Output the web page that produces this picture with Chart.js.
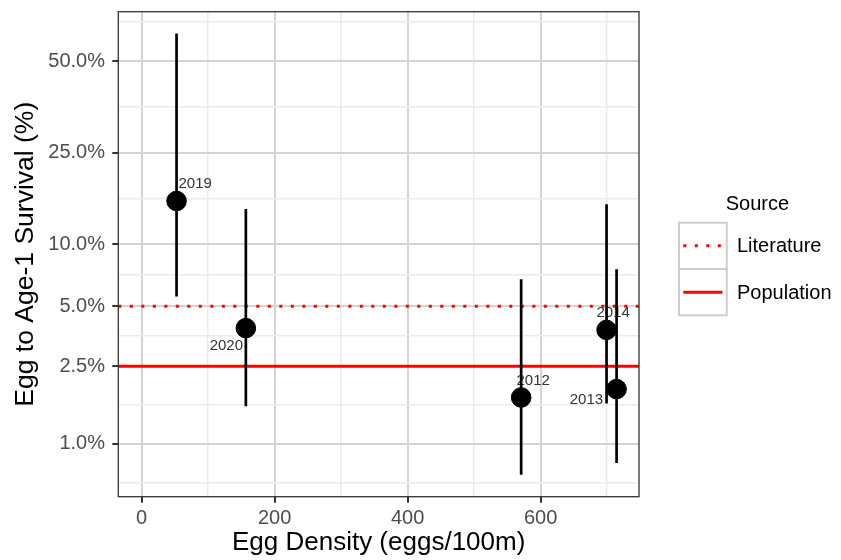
<!DOCTYPE html>
<html>
<head>
<meta charset="utf-8">
<script src="https://cdn.jsdelivr.net/npm/chart.js@4.4.1/dist/chart.umd.min.js"></script>
<style>
    body { margin: 0; background: #fff; }
    #grafico { display: block; }
</style>
</head>
<body>
<canvas id="grafico" width="841" height="560"></canvas>
<script>
// dados
const anos = ['2019', '2020', '2012', '2014', '2013'];
const densidadeOvos = [52.6, 156.8, 570.8, 699.2, 714.3];
const sobrevivencia = [0.157, 0.0389, 0.0173, 0.0381, 0.0191];
const sobrevInferior = [0.0559, 0.0156, 0.00691, 0.0161, 0.00795];
const sobrevSuperior = [0.582, 0.1448, 0.0679, 0.152, 0.0759];

const fontes = ['Literature', 'Population'];
const valoresFonte = [0.05, 0.025];

const quebrasY = [0.01, 0.025, 0.05, 0.1, 0.25, 0.5];
const quebrasX = [0, 200, 400, 600];
const quebrasMenoresX = [100, 300, 500, 700];
const limitesX = [-35, 748];
const limitesY = [0.00532, 0.6438];

// deslocamento dos rótulos em pixels (estilo, não dado)
const deslocRotulos = [[18.6, -16.8], [-19.5, 17.9], [12, -16.9], [6.6, -17.2], [-30.2, 11.2]];

const fonte = "'Liberation Sans', Arial, Helvetica, sans-serif";
const corGradeMaior = '#d4d4d4';
const corGradeMenor = '#ebebeb';

const logit = p => Math.log(p / (1 - p));
const invLogit = z => 1 / (1 + Math.exp(-z));

// escala logit (como scales::logit_trans do ggplot)
class EscalaLogit extends Chart.Scale {
    determineDataLimits() {
        const { min, max } = this.getMinMax(true);
        this.min = this.options.min ?? min;
        this.max = this.options.max ?? max;
    }
    buildTicks() {
        const z = quebrasY.map(logit);
        const passo = z[1] - z[0];
        const ext = [z[0] - passo, ...z, z[z.length - 1] + passo];
        const ticks = [];
        for (let i = 0; i < ext.length - 1; i++) {
            ticks.push({ value: invLogit((ext[i] + ext[i + 1]) / 2), menor: true });
        }
        quebrasY.forEach(v => ticks.push({ value: v, menor: false }));
        return ticks
            .filter(t => t.value >= this.min && t.value <= this.max)
            .sort((a, b) => a.value - b.value);
    }
    configure() {
        super.configure();
        this._inicio = logit(this.min);
        this._faixa = logit(this.max) - this._inicio;
    }
    getPixelForValue(v) {
        return this.getPixelForDecimal((logit(v) - this._inicio) / this._faixa);
    }
    getValueForPixel(px) {
        return invLogit(this._inicio + this.getDecimalForPixel(px) * this._faixa);
    }
}
EscalaLogit.id = 'logit';
EscalaLogit.defaults = {};
Chart.register(EscalaLogit);

const pluginRotulos = {
    id: 'rotulos',
    beforeDatasetsDraw(chart) {
        const { ctx, scales: { x, y } } = chart;
        ctx.save();
        ctx.font = `15px ${fonte}`;
        ctx.fillStyle = '#333333';
        ctx.textAlign = 'center';
        ctx.textBaseline = 'middle';
        anos.forEach((ano, i) => {
            const px = x.getPixelForValue(densidadeOvos[i]) + deslocRotulos[i][0];
            const py = y.getPixelForValue(sobrevivencia[i]) + deslocRotulos[i][1];
            ctx.fillText(ano, px, py);
        });
        ctx.restore();
    },
    afterDatasetsDraw(chart) {
        const { ctx, chartArea: a } = chart;
        ctx.save();
        ctx.strokeStyle = '#333333';
        ctx.lineWidth = 1.3;
        ctx.strokeRect(a.left, a.top, a.right - a.left, a.bottom - a.top);
        ctx.restore();
    }
};

const pluginLegenda = {
    id: 'legendaFonte',
    afterDraw(chart) {
        const { ctx, chartArea: a } = chart;
        const esq = a.right + 40;
        const topo = 222.7;
        const larg = 47.7, alt = 46.3;
        ctx.save();
        ctx.font = `20px ${fonte}`;
        ctx.fillStyle = '#000';
        ctx.textAlign = 'left';
        ctx.textBaseline = 'middle';
        ctx.fillText('Source', esq + 46.7, topo - 18.5);
        fontes.forEach((nome, i) => {
            const yTopo = topo + i * alt;
            ctx.fillStyle = '#fff';
            ctx.fillRect(esq, yTopo, larg, alt);
            ctx.strokeStyle = '#cccccc';
            ctx.lineWidth = 2;
            ctx.strokeRect(esq, yTopo, larg, alt);
            ctx.strokeStyle = '#ff0000';
            ctx.lineWidth = 3;
            ctx.setLineDash(i === 0 ? [3, 8.5] : []);
            ctx.beginPath();
            ctx.moveTo(esq + 4.3, yTopo + alt / 2);
            ctx.lineTo(esq + larg - 4.3, yTopo + alt / 2);
            ctx.stroke();
            ctx.setLineDash([]);
            ctx.fillStyle = '#000';
            ctx.fillText(nome, esq + 58, yTopo + alt / 2 + 1);
        });
        ctx.restore();
    }
};

const barrasErro = anos.map((ano, i) => ({
    type: 'line',
    label: 'erro ' + ano,
    data: [
        { x: densidadeOvos[i], y: sobrevInferior[i] },
        { x: densidadeOvos[i], y: sobrevSuperior[i] }
    ],
    borderColor: '#000',
    borderWidth: 2.7,
    pointRadius: 0,
    order: 1
}));

const linhasFonte = fontes.map((nome, i) => ({
    type: 'line',
    label: nome,
    data: [
        { x: limitesX[0], y: valoresFonte[i] },
        { x: limitesX[1], y: valoresFonte[i] }
    ],
    borderColor: '#ff0000',
    borderWidth: 3,
    borderDash: i === 0 ? [3, 8.5] : [],
    borderCapStyle: 'butt',
    pointRadius: 0,
    order: 2
}));

const grafico = new Chart(document.getElementById('grafico').getContext('2d'), {
    type: 'scatter',
    data: {
        datasets: [
            {
                label: 'Sobrevivência',
                data: anos.map((a, i) => ({ x: densidadeOvos[i], y: sobrevivencia[i] })),
                backgroundColor: '#000',
                borderColor: '#000',
                pointRadius: 9.8,
                pointHoverRadius: 9.8,
                order: 0
            },
            ...barrasErro,
            ...linhasFonte
        ]
    },
    options: {
        responsive: false,
        animation: false,
        events: [],
        layout: { padding: { left: 0, top: 11.7, right: 202, bottom: 0 } },
        plugins: {
            legend: { display: false },
            tooltip: { enabled: false }
        },
        scales: {
            x: {
                type: 'linear',
                min: limitesX[0],
                max: limitesX[1],
                afterBuildTicks: s => {
                    s.ticks = [...quebrasX, ...quebrasMenoresX].sort((a, b) => a - b).map(v => ({ value: v }));
                },
                afterFit: s => {
                    s.height = 63.3;
                    s.paddingLeft = 0;
                    s.paddingRight = 0;
                },
                border: { display: false },
                grid: {
                    color: c => quebrasX.includes(c.tick.value) ? corGradeMaior : corGradeMenor,
                    lineWidth: c => quebrasX.includes(c.tick.value) ? 2 : 1.5,
                    tickColor: c => quebrasX.includes(c.tick.value) ? '#333333' : 'rgba(0,0,0,0)',
                    tickLength: 6,
                    tickWidth: 2
                },
                ticks: {
                    autoSkip: false,
                    maxRotation: 0,
                    padding: 3.5,
                    color: '#4d4d4d',
                    font: { family: fonte, size: 20 },
                    callback: v => quebrasX.includes(v) ? String(v) : ''
                },
                title: {
                    display: true,
                    text: 'Egg Density (eggs/100m)',
                    color: '#000',
                    font: { family: fonte, size: 26 },
                    padding: { top: 0, bottom: 2 }
                }
            },
            y: {
                type: 'logit',
                min: limitesY[0],
                max: limitesY[1],
                afterFit: s => {
                    s.width = 118.3;
                    s.paddingTop = 0;
                    s.paddingBottom = 0;
                },
                border: { display: false },
                grid: {
                    color: c => c.tick.menor ? corGradeMenor : corGradeMaior,
                    lineWidth: c => c.tick.menor ? 1.5 : 2,
                    tickColor: c => c.tick.menor ? 'rgba(0,0,0,0)' : '#333333',
                    tickLength: 6,
                    tickWidth: 2
                },
                ticks: {
                    autoSkip: false,
                    padding: 7.3,
                    color: '#4d4d4d',
                    font: { family: fonte, size: 20 },
                    callback: (v, i, ticks) => ticks[i].menor ? '' : (v * 100).toFixed(1) + '%'
                },
                title: {
                    display: true,
                    text: 'Egg to Age-1 Survival (%)',
                    color: '#000',
                    font: { family: fonte, size: 26.5 },
                    padding: { top: 9.4, bottom: 0 }
                }
            }
        }
    },
    plugins: [pluginRotulos, pluginLegenda]
});
</script>
</body>
</html>
